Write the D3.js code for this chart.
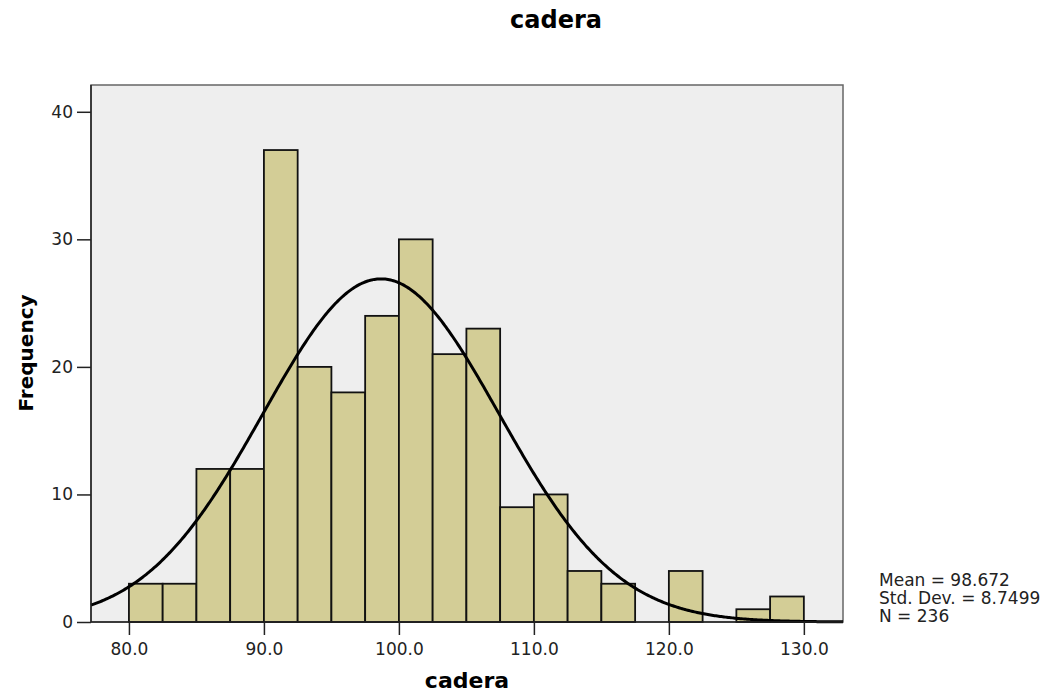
<!DOCTYPE html>
<html>
<head>
<meta charset="utf-8">
<script src="https://cdn.jsdelivr.net/npm/d3@7"></script>
<style>
  body { margin: 0; background: #fff; }
  text { font-family: "DejaVu Sans", Verdana, sans-serif; }
</style>
</head>
<body>
<div id="chart"></div>
<script>
// Histogram bins (lower edge, width 2.5) and counts
const binStarts = [80, 82.5, 85, 87.5, 90, 92.5, 95, 97.5, 100, 102.5, 105, 107.5, 110, 112.5, 115, 117.5, 120, 122.5, 125, 127.5];
const counts = [3, 3, 12, 12, 37, 20, 18, 24, 30, 21, 23, 9, 10, 4, 3, 0, 4, 0, 1, 2];
const binWidth = 2.5;

// Summary statistics shown in the chart
const stats = { mean: 98.672, sd: 8.7499, n: 236 };
const statLines = ["Mean = 98.672", "Std. Dev. = 8.7499", "N = 236"];

const xTicks = [80, 90, 100, 110, 120, 130];
const yTicks = [0, 10, 20, 30, 40];

const width = 1045, height = 695;
const plot = { left: 91, top: 85, right: 843, bottom: 622 };

const svg = d3.select("#chart").append("svg")
  .attr("width", width)
  .attr("height", height);

const x = d3.scaleLinear().domain([77.19, 132.9]).range([plot.left, plot.right]);
const y = d3.scaleLinear().domain([0, 42.1]).range([plot.bottom, plot.top]);

// Plot background
svg.append("rect")
  .attr("x", plot.left).attr("y", plot.top)
  .attr("width", plot.right - plot.left).attr("height", plot.bottom - plot.top)
  .attr("fill", "#eeeeee")
  .attr("stroke", "#666")
  .attr("stroke-width", 1.5);

// Bars
svg.selectAll(".bar")
  .data(binStarts.map((s, i) => ({ start: s, count: counts[i] })).filter(d => d.count > 0))
  .enter().append("rect")
  .attr("class", "bar")
  .attr("x", d => x(d.start))
  .attr("y", d => y(d.count))
  .attr("width", d => x(d.start + binWidth) - x(d.start))
  .attr("height", d => y(0) - y(d.count))
  .attr("fill", "#d3cd96")
  .attr("stroke", "#111")
  .attr("stroke-width", 1.8);

// Fitted normal curve from the displayed mean, sd and N
const scaleFactor = stats.n * binWidth / (stats.sd * Math.sqrt(2 * Math.PI));
const curvePts = d3.range(77.19, 132.9, 0.1).concat([132.9]).map(v => {
  const z = (v - stats.mean) / stats.sd;
  return [v, scaleFactor * Math.exp(-0.5 * z * z)];
});
svg.append("path")
  .datum(curvePts)
  .attr("fill", "none")
  .attr("stroke", "#000")
  .attr("stroke-width", 3)
  .attr("d", d3.line().x(d => x(d[0])).y(d => y(d[1])));

// Left and bottom axis lines
svg.append("line")
  .attr("x1", plot.left).attr("x2", plot.left)
  .attr("y1", plot.top).attr("y2", plot.bottom)
  .attr("stroke", "#222").attr("stroke-width", 1.5);
svg.append("line")
  .attr("x1", plot.left).attr("x2", plot.right)
  .attr("y1", plot.bottom).attr("y2", plot.bottom)
  .attr("stroke", "#222").attr("stroke-width", 1.5);

// Axes
const xAxis = svg.append("g")
  .attr("transform", `translate(0,${plot.bottom})`)
  .call(d3.axisBottom(x).tickValues(xTicks).tickFormat(d3.format(".1f")).tickSize(13).tickSizeOuter(0));
const yAxis = svg.append("g")
  .attr("transform", `translate(${plot.left},0)`)
  .call(d3.axisLeft(y).tickValues(yTicks).tickFormat(d3.format("d")).tickSize(14).tickSizeOuter(0));

[xAxis, yAxis].forEach(g => {
  g.select(".domain").remove();
  g.selectAll(".tick line").attr("stroke", "#222").attr("stroke-width", 1.5);
  g.selectAll(".tick text")
    .attr("font-size", 17)
    .attr("fill", "#222")
    .attr("font-family", "DejaVu Sans, Verdana, sans-serif");
});
xAxis.selectAll(".tick text").attr("dy", "1.15em").attr("y", 13);
yAxis.selectAll(".tick text").attr("x", -18);

// Title and axis labels
svg.append("text")
  .attr("x", 556).attr("y", 28)
  .attr("text-anchor", "middle")
  .attr("font-size", 24).attr("font-weight", "bold")
  .text("cadera");

svg.append("text")
  .attr("x", 467).attr("y", 688)
  .attr("text-anchor", "middle")
  .attr("font-size", 22).attr("font-weight", "bold")
  .text("cadera");

svg.append("text")
  .attr("transform", "translate(33,353) rotate(-90)")
  .attr("text-anchor", "middle")
  .attr("font-size", 20).attr("font-weight", "bold")
  .text("Frequency");

// Stats box
svg.selectAll(".stat")
  .data(statLines)
  .enter().append("text")
  .attr("class", "stat")
  .attr("x", 879)
  .attr("y", (d, i) => 586 + i * 18)
  .attr("font-size", 17)
  .attr("fill", "#222")
  .text(d => d);
</script>
</body>
</html>
